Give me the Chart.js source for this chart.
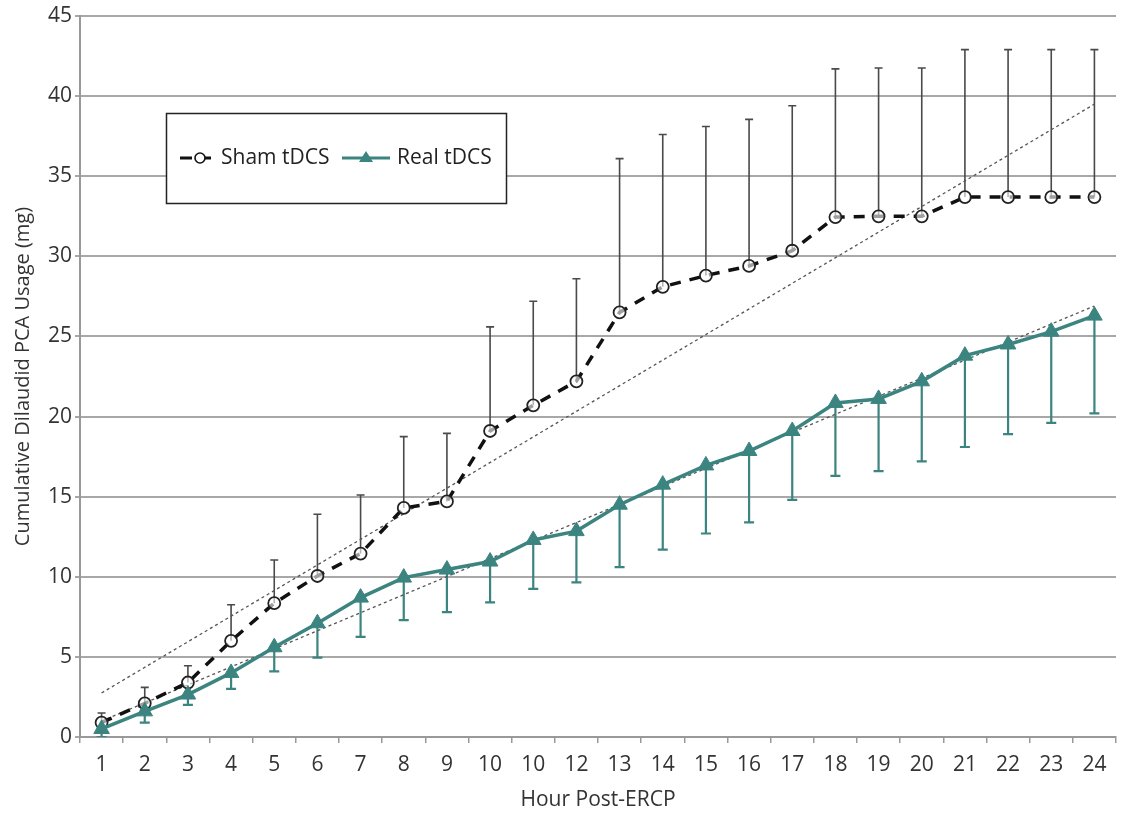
<!DOCTYPE html>
<html>
<head>
<meta charset="utf-8">
<script src="https://cdn.jsdelivr.net/npm/chart.js@4"></script>
<style>
body { margin: 0; background: #fff; }
</style>
</head>
<body>
<canvas id="usage" width="1126" height="813"></canvas>
<script>
// hour labels as printed in the figure (11th label reads "10")
var hours = ["1","2","3","4","5","6","7","8","9","10","10","12","13","14","15","16","17","18","19","20","21","22","23","24"];

var sham = [0.9, 2.1, 3.4, 6.0, 8.35, 10.05, 11.45, 14.3, 14.7, 19.1, 20.7, 22.2, 26.5, 28.1, 28.8, 29.4, 30.35, 32.45, 32.5, 32.5, 33.7, 33.7, 33.7, 33.7];
var shamUpper = [1.5, 3.1, 4.45, 8.25, 11.05, 13.9, 15.1, 18.75, 18.95, 25.6, 27.2, 28.6, 36.1, 37.6, 38.1, 38.55, 39.4, 41.7, 41.75, 41.75, 42.9, 42.9, 42.9, 42.9];

var real = [0.5, 1.6, 2.65, 4.0, 5.6, 7.1, 8.7, 9.95, 10.45, 10.95, 12.3, 12.85, 14.5, 15.75, 16.95, 17.85, 19.1, 20.85, 21.1, 22.2, 23.8, 24.5, 25.3, 26.3];
var realLower = [0, 0.9, 2.0, 3.0, 4.1, 4.95, 6.25, 7.3, 7.8, 8.4, 9.25, 9.65, 10.6, 11.7, 12.7, 13.4, 14.8, 16.3, 16.6, 17.2, 18.1, 18.9, 19.6, 20.2];

// linear trend lines, only end points are known
var shamTrend = [2.75, null, null, null, null, null, null, null, null, null, null, null, null, null, null, null, null, null, null, null, null, null, null, 39.5];
var realTrend = [1.0, null, null, null, null, null, null, null, null, null, null, null, null, null, null, null, null, null, null, null, null, null, null, 26.9];

var yTicks = [0, 5, 10, 15, 20, 25, 30, 35, 40, 45];

var teal = "#3b8480";
var fontName = "'Open Sans', sans-serif";

var errorBars = {
    id: "errorBars",
    beforeDatasetsDraw: function(chart) {
        const ctx = chart.ctx;
        const x = chart.scales.x;
        const y = chart.scales.y;
        ctx.save();
        ctx.beginPath();
        ctx.rect(chart.chartArea.left, chart.chartArea.top - 5, chart.chartArea.width, chart.chartArea.height + 5);
        ctx.clip();
        // sham: upper bars
        ctx.strokeStyle = "#4a4a4a";
        ctx.lineWidth = 1.6;
        for (let i = 0; i < hours.length; i++) {
            let px = x.getPixelForValue(i);
            let p0 = y.getPixelForValue(sham[i]);
            let p1 = y.getPixelForValue(shamUpper[i]);
            ctx.beginPath();
            ctx.moveTo(px, p0);
            ctx.lineTo(px, p1);
            ctx.moveTo(px - 4, p1);
            ctx.lineTo(px + 4, p1);
            ctx.stroke();
        }
        // real: lower bars
        ctx.strokeStyle = teal;
        ctx.lineWidth = 2.2;
        for (let i = 0; i < hours.length; i++) {
            let px = x.getPixelForValue(i);
            let p0 = y.getPixelForValue(real[i]);
            let p1 = y.getPixelForValue(realLower[i]);
            ctx.beginPath();
            ctx.moveTo(px, p0);
            ctx.lineTo(px, p1);
            ctx.moveTo(px - 5, p1);
            ctx.lineTo(px + 5, p1);
            ctx.stroke();
        }
        ctx.restore();
    }
};

var boxLegend = {
    id: "boxLegend",
    afterDraw: function(chart) {
        const ctx = chart.ctx;
        ctx.save();
        ctx.fillStyle = "#fff";
        ctx.fillRect(166, 113, 341, 91);
        ctx.strokeStyle = "#222";
        ctx.lineWidth = 1.5;
        ctx.strokeRect(166.5, 113.5, 340, 90);

        let cy = 158;
        // sham sample
        ctx.strokeStyle = "#111";
        ctx.lineWidth = 3;
        ctx.beginPath();
        ctx.moveTo(180, cy);
        ctx.lineTo(192, cy);
        ctx.moveTo(205, cy);
        ctx.lineTo(211, cy);
        ctx.stroke();
        ctx.lineWidth = 1.6;
        ctx.beginPath();
        ctx.arc(200, cy, 5, 0, Math.PI * 2);
        ctx.stroke();

        // real sample
        ctx.strokeStyle = teal;
        ctx.fillStyle = teal;
        ctx.lineWidth = 3;
        ctx.beginPath();
        ctx.moveTo(342, cy);
        ctx.lineTo(390, cy);
        ctx.stroke();
        ctx.beginPath();
        ctx.moveTo(366, cy - 7);
        ctx.lineTo(373, cy + 4);
        ctx.lineTo(359, cy + 4);
        ctx.closePath();
        ctx.fill();

        ctx.fillStyle = "#222";
        ctx.font = "21px " + fontName;
        ctx.textBaseline = "middle";
        ctx.fillText("Sham tDCS", 221, cy);
        ctx.fillText("Real tDCS", 397, cy);
        ctx.restore();
    }
};

var data = {
    labels: hours,
    datasets: [{
        label: "Real tDCS",
        data: real,
        borderColor: teal,
        backgroundColor: teal,
        borderWidth: 3.5,
        pointStyle: "triangle",
        pointRadius: 9,
        pointBorderWidth: 1,
        tension: 0
    }, {
        label: "Sham tDCS",
        data: sham,
        borderColor: "#111",
        backgroundColor: "#fff",
        borderWidth: 3.5,
        borderDash: [11, 9],
        pointStyle: "circle",
        pointRadius: 6,
        pointBorderWidth: 1.8,
        pointBorderColor: "#222",
        pointBackgroundColor: "rgba(255,255,255,0.6)",
        tension: 0
    }, {
        label: "Sham trend",
        data: shamTrend,
        borderColor: "#555",
        borderWidth: 1.3,
        borderDash: [3, 3],
        pointRadius: 0,
        spanGaps: true
    }, {
        label: "Real trend",
        data: realTrend,
        borderColor: "#555",
        borderWidth: 1.3,
        borderDash: [3, 3],
        pointRadius: 0,
        spanGaps: true
    }]
};

var options = {
    responsive: false,
    animation: false,
    devicePixelRatio: 1,
    layout: {
        padding: { top: 16, right: 4, left: 0, bottom: 0 }
    },
    plugins: {
        legend: { display: false },
        tooltip: { enabled: false }
    },
    scales: {
        x: {
            offset: true,
            grid: {
                offset: true,
                drawOnChartArea: false,
                tickLength: 6,
                color: "#999",
                lineWidth: 1.5
            },
            border: { color: "#999", width: 2 },
            ticks: {
                color: "#333",
                font: { family: fontName, size: 21 },
                padding: 9,
                maxRotation: 0,
                autoSkip: false
            },
            title: {
                display: true,
                text: "Hour Post-ERCP",
                color: "#333",
                font: { family: fontName, size: 21 },
                padding: { top: 0, bottom: 0 }
            },
            afterFit: function(s) { s.height = 76; }
        },
        y: {
            min: 0,
            max: 45,
            afterBuildTicks: function(s) {
                s.ticks = yTicks.map(function(v) { return { value: v }; });
            },
            grid: {
                color: "#a8a8a8",
                lineWidth: 2,
                tickLength: 5
            },
            border: { color: "#999", width: 2 },
            ticks: {
                color: "#333",
                font: { family: fontName, size: 21 },
                padding: 3
            },
            title: {
                display: true,
                text: "Cumulative Dilaudid PCA Usage (mg)",
                color: "#333",
                font: { family: fontName, size: 20 },
                padding: { top: 11, bottom: 4 }
            },
            afterFit: function(s) { s.width = 80; }
        }
    }
};

var chart = new Chart(document.getElementById("usage").getContext("2d"), {
    type: "line",
    data: data,
    options: options,
    plugins: [errorBars, boxLegend]
});
</script>
</body>
</html>
